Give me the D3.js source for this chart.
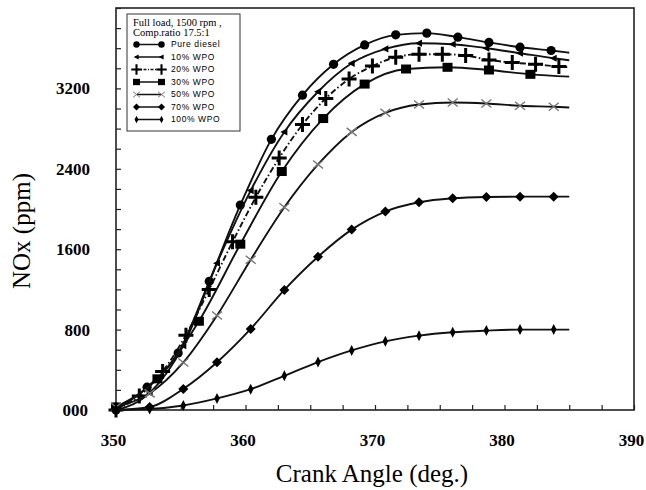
<!DOCTYPE html>
<html>
<head>
<meta charset="utf-8">
<script src="https://cdn.jsdelivr.net/npm/d3@7"></script>
<style>
  body { margin: 0; background: #fff; }
  svg { display: block; }
</style>
</head>
<body>
<div id="chart"></div>
<script>
// crank angle (deg) of each marker; the last point of every series is the line end (no marker)
var xDiesel = [350, 352.4, 354.8, 357.2, 359.6, 362, 364.4, 366.8, 369.2, 371.6, 374, 376.4, 378.8, 381.2, 383.6, 385];
var yDiesel = [0, 227, 567, 1280, 2040, 2693, 3133, 3440, 3633, 3733, 3750, 3710, 3657, 3610, 3577, 3555];

var x10 = [350, 352.6, 355.2, 357.8, 360.4, 363, 365.6, 368.2, 370.8, 373.4, 376, 378.6, 381.2, 383.8, 385];
var y10 = [0, 170, 640, 1460, 2183, 2767, 3167, 3450, 3593, 3650, 3640, 3600, 3550, 3500, 3480];

var x20 = [350, 351.8, 353.6, 355.4, 357.2, 359, 360.8, 362.6, 364.4, 366.2, 368, 369.8, 371.6, 373.4, 375.2, 377, 378.8, 380.6, 382.4, 384.2, 385];
var y20 = [0, 140, 383, 745, 1200, 1673, 2117, 2507, 2840, 3100, 3293, 3423, 3510, 3540, 3540, 3527, 3483, 3457, 3440, 3417, 3410];

var x30 = [350, 353.2, 356.4, 359.6, 362.8, 366, 369.2, 372.4, 375.6, 378.8, 382, 385];
var y30 = [30, 310, 883, 1650, 2373, 2900, 3243, 3393, 3410, 3383, 3340, 3317];

var x50 = [350, 352.6, 355.2, 357.8, 360.4, 363, 365.6, 368.2, 370.8, 373.4, 376, 378.6, 381.2, 383.8, 385];
var y50 = [30, 165, 473, 940, 1495, 2017, 2443, 2767, 2957, 3040, 3060, 3050, 3027, 3017, 3010];

var x70 = [350, 352.6, 355.2, 357.8, 360.4, 363, 365.6, 368.2, 370.8, 373.4, 376, 378.6, 381.2, 383.8, 385];
var y70 = [0, 30, 210, 475, 807, 1195, 1525, 1795, 1975, 2067, 2107, 2120, 2123, 2123, 2123];

var x100 = [350, 352.6, 355.2, 357.8, 360.4, 363, 365.6, 368.2, 370.8, 373.4, 376, 378.6, 381.2, 383.8, 385];
var y100 = [0, 10, 45, 115, 207, 340, 477, 593, 683, 740, 773, 790, 800, 800, 800];

var seriesNames = ["Pure diesel", "10% WPO", "20% WPO", "30% WPO", "50% WPO", "70% WPO", "100% WPO"];
var xTickLabels = [350, 360, 370, 380, 390];
var yTickLabels = [0, 800, 1600, 2400, 3200];

var width = 646, height = 490;
var margin = { top: 8, right: 12, bottom: 80, left: 116 };
var w = width - margin.left - margin.right;
var h = height - margin.top - margin.bottom;

var svg = d3.select('#chart').append('svg')
    .attr('width', width)
    .attr('height', height);

var g = svg.append('g')
    .attr('transform', 'translate(' + margin.left + ',' + margin.top + ')');

var x = d3.scaleLinear().domain([350, 390]).range([0, w]);
var y = d3.scaleLinear().domain([0, 4000]).range([h, 0]);

// marker shapes
var markers = {
    circle: function(s) { s.append('circle').attr('r', 4.6).attr('fill', '#000'); },
    triLeft: function(s) { s.append('path').attr('d', 'M-4,0L3,-3.6L3,3.6Z').attr('fill', '#000'); },
    plus: function(s) { s.append('path').attr('d', 'M-7.5,0H7.5M0,-7.5V7.5').attr('stroke', '#000').attr('stroke-width', 3); },
    square: function(s) { s.append('rect').attr('x', -5).attr('y', -4.5).attr('width', 10).attr('height', 9).attr('fill', '#000'); },
    cross: function(s) { s.append('path').attr('d', 'M-5,-4L5,4M-5,4L5,-4').attr('stroke', '#777').attr('stroke-width', 1.4).attr('fill', 'none'); },
    diamond: function(s) { s.append('path').attr('d', 'M0,-5L5,0L0,5L-5,0Z').attr('fill', '#000'); },
    thinDiamond: function(s) { s.append('path').attr('d', 'M0,-5.5L2.8,0L0,5.5L-2.8,0Z').attr('fill', '#000'); }
};

var series = [
    { name: seriesNames[0], xs: xDiesel, ys: yDiesel, marker: 'circle', dash: null },
    { name: seriesNames[1], xs: x10, ys: y10, marker: 'triLeft', dash: null },
    { name: seriesNames[2], xs: x20, ys: y20, marker: 'plus', dash: '6,2.5,1.5,2.5' },
    { name: seriesNames[3], xs: x30, ys: y30, marker: 'square', dash: null },
    { name: seriesNames[4], xs: x50, ys: y50, marker: 'cross', dash: null },
    { name: seriesNames[5], xs: x70, ys: y70, marker: 'diamond', dash: null },
    { name: seriesNames[6], xs: x100, ys: y100, marker: 'thinDiamond', dash: null }
];

// axes with inward ticks
var xAxis = d3.axisBottom(x)
    .tickValues(d3.range(350, 390.01, 2.5))
    .tickSize(-5)
    .tickPadding(24)
    .tickFormat(function(d) { return xTickLabels.indexOf(d) >= 0 ? d : ''; });

var yAxis = d3.axisLeft(y)
    .tickValues(d3.range(0, 4001, 200))
    .tickSize(-5)
    .tickPadding(26)
    .tickFormat(function(d) {
        if (yTickLabels.indexOf(d) < 0) return '';
        return d === 0 ? '000' : d;
    });

var gx = g.append('g').attr('transform', 'translate(0,' + h + ')').call(xAxis);
var gy = g.append('g').call(yAxis);

[gx, gy].forEach(function(a) {
    a.select('.domain').remove();
    a.selectAll('line').attr('stroke', '#222').attr('stroke-width', 1.2);
    a.selectAll('text')
        .attr('fill', '#000')
        .style('font-family', '"Liberation Serif", "Times New Roman", serif')
        .style('font-weight', 'bold')
        .style('font-size', '17px');
});
gx.selectAll('text').attr('dx', -3);
gy.selectAll('text').filter(function(d) { return d === 0; }).attr('dx', -2);

g.append('rect')
    .attr('width', w)
    .attr('height', h)
    .attr('fill', 'none')
    .attr('stroke', '#222')
    .attr('stroke-width', 1.6);

// curves
var line = d3.line()
    .x(function(d) { return x(d[0]); })
    .y(function(d) { return y(d[1]); })
    .curve(d3.curveMonotoneX);

series.forEach(function(s) {
    var pts = s.xs.map(function(v, i) { return [v, s.ys[i]]; });
    g.append('path')
        .datum(pts)
        .attr('d', line)
        .attr('fill', 'none')
        .attr('stroke', '#111')
        .attr('stroke-width', 1.9)
        .attr('stroke-dasharray', s.dash);

    g.selectAll(null)
        .data(pts.slice(0, -1))
        .enter()
        .append('g')
        .attr('transform', function(d) { return 'translate(' + x(d[0]) + ',' + y(d[1]) + ')'; })
        .each(function() { markers[s.marker](d3.select(this)); });
});

// legend
var lg = svg.append('g').attr('transform', 'translate(127,14)');
lg.append('rect')
    .attr('width', 113)
    .attr('height', 117)
    .attr('fill', '#fff')
    .attr('stroke', '#333')
    .attr('stroke-width', 1);

lg.append('text').attr('x', 6).attr('y', 12)
    .style('font-family', '"Liberation Serif", serif').style('font-size', '10.5px')
    .text('Full load, 1500 rpm ,');
lg.append('text').attr('x', 6).attr('y', 21.5)
    .style('font-family', '"Liberation Serif", serif').style('font-size', '10.5px')
    .text('Comp.ratio 17.5:1');

series.forEach(function(s, i) {
    var yy = 30.5 + i * 12.5;
    lg.append('line')
        .attr('x1', 9.5).attr('x2', 34.5)
        .attr('y1', yy).attr('y2', yy)
        .attr('stroke', '#111')
        .attr('stroke-width', 1.5)
        .attr('stroke-dasharray', s.dash ? '3,1.5,1,1.5' : null);
    [9.5, 34.5].forEach(function(mx) {
        var m = lg.append('g').attr('transform', 'translate(' + mx + ',' + yy + ') scale(0.7)');
        markers[s.marker](m);
    });
    lg.append('text')
        .attr('x', 44)
        .attr('y', yy)
        .attr('dy', '0.35em')
        .style('font-family', '"Liberation Sans", Arial, sans-serif')
        .style('font-size', '8.5px')
        .style('letter-spacing', '0.6px')
        .text(s.name);
});

// axis titles
svg.append('text')
    .attr('x', margin.left + x(370) - 3)
    .attr('y', 482)
    .attr('text-anchor', 'middle')
    .style('font-family', '"Liberation Serif", "Times New Roman", serif')
    .style('font-size', '25px')
    .text('Crank Angle (deg.)');

svg.append('text')
    .attr('transform', 'translate(30,' + 231 + ') rotate(-90)')
    .attr('text-anchor', 'middle')
    .style('font-family', '"Liberation Serif", "Times New Roman", serif')
    .style('font-size', '25px')
    .text('NOx (ppm)');
</script>
</body>
</html>
